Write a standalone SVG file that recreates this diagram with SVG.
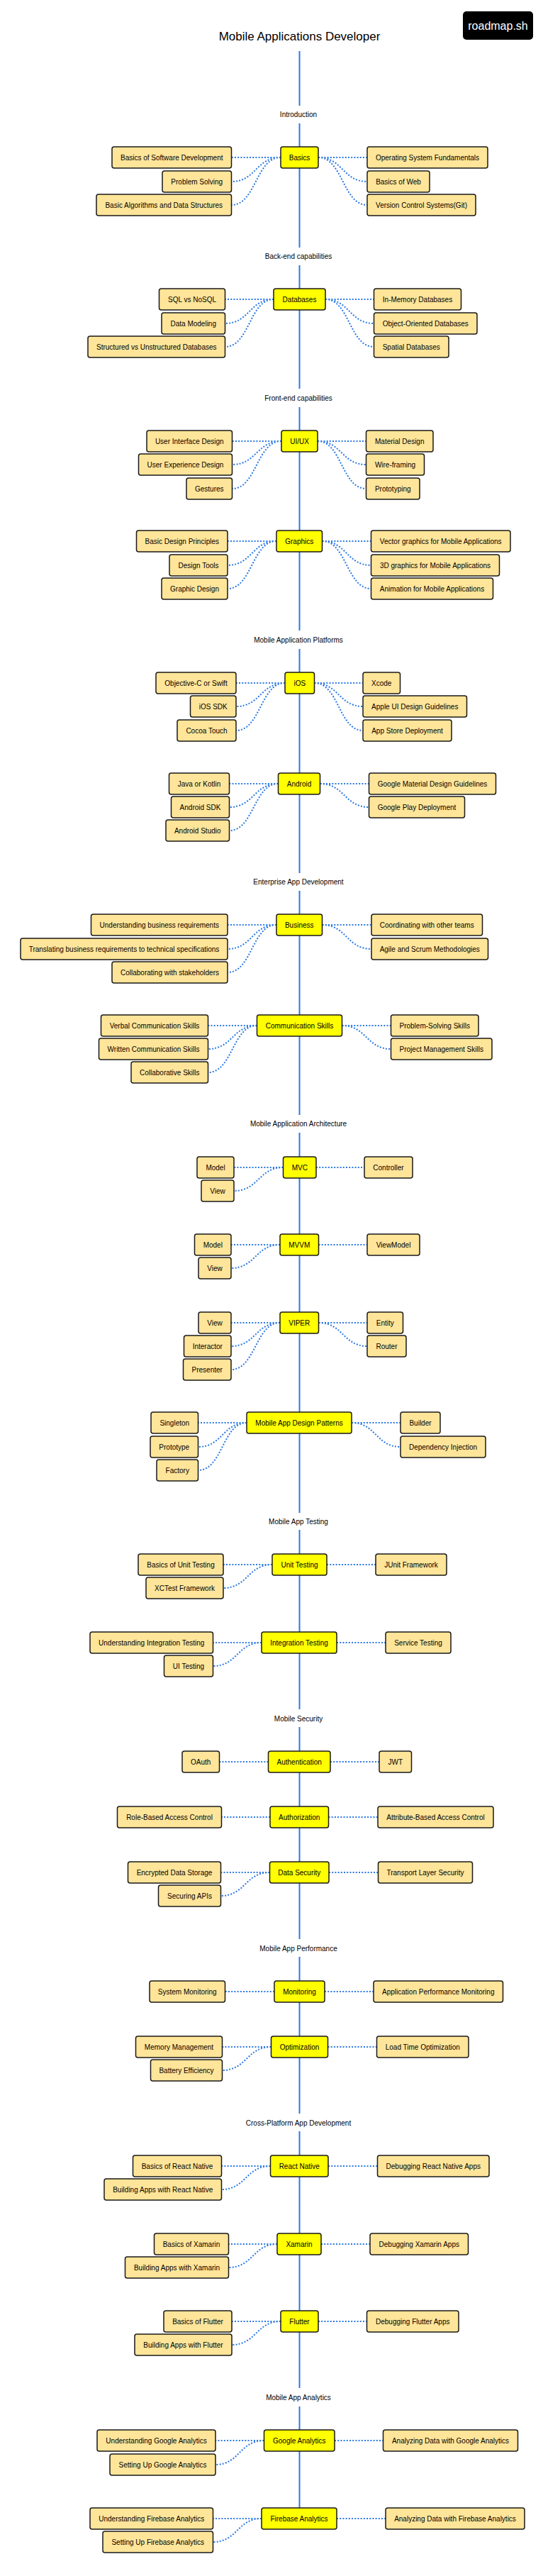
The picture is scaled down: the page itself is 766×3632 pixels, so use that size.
<svg xmlns="http://www.w3.org/2000/svg" width="766" height="3632" viewBox="0 0 766 3632">
<style>
text{font-family:"Liberation Sans",Arial,sans-serif;font-size:10px;fill:#000;text-anchor:middle}
.m rect{fill:#FFFF00;stroke:#1a1a1a;stroke-width:1.5}
.s rect{fill:#FFE599;stroke:#1a1a1a;stroke-width:1.5}
.spine{stroke:#2B78E4;stroke-width:2;fill:none}
.c path{stroke:#2B78E4;stroke-width:2;fill:none;stroke-dasharray:2 2.2}
.lbl{font-size:10px}
</style>
<rect width="766" height="3632" fill="#fff"/>
<g id="title"><text x="422.5" y="57" style="font-size:17px">Mobile Applications Developer</text></g>
<g id="badge"><rect x="653" y="16" width="99" height="40" rx="5" fill="#000"/><text x="702.5" y="42" style="font-size:16px;fill:#fff">roadmap.sh</text></g>

<g id="spine" class="spine">
<path d="M422.5 72V149M422.5 174V349M422.5 374V548M422.5 574V889M422.5 915V1231M422.5 1256V1572M422.5 1597V2133M422.5 2157V2410M422.5 2435V2734M422.5 2759V2980M422.5 3005V3367M422.5 3393V3536"/>
</g>
<g id="labels" class="lbl">
<text x="421" y="164.5">Introduction</text>
<text x="421" y="364.5">Back-end capabilities</text>
<text x="421" y="564.5">Front-end capabilities</text>
<text x="421" y="905.5">Mobile Application Platforms</text>
<text x="421" y="1246.5">Enterprise App Development</text>
<text x="421" y="1587.5">Mobile Application Architecture</text>
<text x="421" y="2148.5">Mobile App Testing</text>
<text x="421" y="2426.5">Mobile Security</text>
<text x="421" y="2750.5">Mobile App Performance</text>
<text x="421" y="2996.5">Cross-Platform App Development</text>
<text x="421" y="3383.5">Mobile App Analytics</text>
</g>

<g id="connectors" class="c">
<path d="M396 222H326.5M396 222C361 222 361 256 326.5 256M396 222C361 222 361 289 326.5 289"/>
<path d="M449 222H518M449 222C483.5 222 483.5 256 518 256M449 222C483.5 222 483.5 289 518 289"/>
<path d="M386 422H317.5M386 422C352 422 352 456 317.5 456M386 422C352 422 352 489 317.5 489"/>
<path d="M459 422H527.5M459 422C493 422 493 456 527.5 456M459 422C493 422 493 489 527.5 489"/>
<path d="M397 622H327.5M397 622C362 622 362 655 327.5 655M397 622C362 622 362 689 327.5 689"/>
<path d="M448 622H516.5M448 622C482 622 482 655 516.5 655M448 622C482 622 482 689 516.5 689"/>
<path d="M390 763H321M390 763C355.5 763 355.5 797 321 797M390 763C355.5 763 355.5 830 321 830"/>
<path d="M454.5 763H523.5M454.5 763C489 763 489 797 523.5 797M454.5 763C489 763 489 830 523.5 830"/>
<path d="M402 963H333M402 963C367.5 963 367.5 996 333 996M402 963C367.5 963 367.5 1030 333 1030"/>
<path d="M443.5 963H512M443.5 963C478 963 478 996 512 996M443.5 963C478 963 478 1030 512 1030"/>
<path d="M392.5 1105H323.5M392.5 1105C358 1105 358 1138 323.5 1138M392.5 1105C358 1105 358 1171 323.5 1171"/>
<path d="M451.5 1105H520.5M451.5 1105C486 1105 486 1138 520.5 1138"/>
<path d="M390 1304H321M390 1304C355.5 1304 355.5 1338 321 1338M390 1304C355.5 1304 355.5 1371 321 1371"/>
<path d="M454.5 1304H524M454.5 1304C489 1304 489 1338 524 1338"/>
<path d="M362.5 1446H293.5M362.5 1446C328 1446 328 1479 293.5 1479M362.5 1446C328 1446 328 1512 293.5 1512"/>
<path d="M482.5 1446H551.5M482.5 1446C517 1446 517 1479 551.5 1479"/>
<path d="M399.5 1646H330M399.5 1646C365 1646 365 1679 330 1679M446 1646H514"/>
<path d="M395 1755H326M395 1755C360.5 1755 360.5 1788 326 1788M449.5 1755H518"/>
<path d="M395 1865H326M395 1865C360.5 1865 360.5 1898 326 1898M395 1865C360.5 1865 360.5 1931 326 1931"/>
<path d="M449.5 1865H518M449.5 1865C484 1865 484 1898 518 1898"/>
<path d="M348 2006H279.5M348 2006C314 2006 314 2040 279.5 2040M348 2006C314 2006 314 2073 279.5 2073"/>
<path d="M496 2006H565M496 2006C530.5 2006 530.5 2040 565 2040"/>
<path d="M384 2206H315M384 2206C349.5 2206 349.5 2239 315 2239M461 2206H530"/>
<path d="M369 2316H300.5M369 2316C335 2316 335 2349 300.5 2349M475 2316H544"/>
<path d="M378.5 2484H309.5M466 2484H535"/>
<path d="M381 2562H312.5M463.5 2562H533"/>
<path d="M380.5 2640H311.5M380.5 2640C346 2640 346 2673 311.5 2673M464 2640H533.5"/>
<path d="M387 2808H317.5M458 2808H527"/>
<path d="M382.5 2886H313.5M382.5 2886C348 2886 348 2919 313.5 2919M462.5 2886H531.5"/>
<path d="M381.5 3054H312.5M381.5 3054C347 3054 347 3087 312.5 3087M463 3054H532.5"/>
<path d="M391 3164H322.5M391 3164C357 3164 357 3197 322.5 3197M453 3164H522"/>
<path d="M396 3273H327M396 3273C361.5 3273 361.5 3306 327 3306M449 3273H517.5"/>
<path d="M372.5 3441H304M372.5 3441C338 3441 338 3475 304 3475M472 3441H540.5"/>
<path d="M369 3551H300.5M369 3551C335 3551 335 3584 300.5 3584M475 3551H544"/>
</g>

<g id="basics" class="m"><rect x="396" y="207" width="53" height="30" rx="3"/><text x="422.5" y="225.5">Basics</text></g>
<g id="basics-sw" class="s"><rect x="158" y="207" width="168.5" height="30" rx="3"/><text x="242.25" y="225.5">Basics of Software Development</text></g>
<g id="problem-solving" class="s"><rect x="229" y="241" width="97.5" height="30" rx="3"/><text x="277.75" y="259.5">Problem Solving</text></g>
<g id="algorithms" class="s"><rect x="136" y="274" width="190.5" height="30" rx="3"/><text x="231.25" y="292.5">Basic Algorithms and Data Structures</text></g>
<g id="os" class="s"><rect x="518" y="207" width="170" height="30" rx="3"/><text x="603" y="225.5">Operating System Fundamentals</text></g>
<g id="web" class="s"><rect x="518" y="241" width="88" height="30" rx="3"/><text x="562" y="259.5">Basics of Web</text></g>
<g id="vcs" class="s"><rect x="518" y="274" width="153" height="30" rx="3"/><text x="594.5" y="292.5">Version Control Systems(Git)</text></g>

<g id="databases" class="m"><rect x="386" y="407" width="73" height="30" rx="3"/><text x="422.5" y="425.5">Databases</text></g>
<g id="sql" class="s"><rect x="224.5" y="407" width="93" height="30" rx="3"/><text x="271" y="425.5">SQL vs NoSQL</text></g>
<g id="modeling" class="s"><rect x="228" y="441" width="89.5" height="30" rx="3"/><text x="272.75" y="459.5">Data Modeling</text></g>
<g id="structured" class="s"><rect x="124" y="474" width="193.5" height="30" rx="3"/><text x="220.75" y="492.5">Structured vs Unstructured Databases</text></g>
<g id="inmem" class="s"><rect x="527.5" y="407" width="123" height="30" rx="3"/><text x="589" y="425.5">In-Memory Databases</text></g>
<g id="oodb" class="s"><rect x="527.5" y="441" width="145.5" height="30" rx="3"/><text x="600.25" y="459.5">Object-Oriented Databases</text></g>
<g id="spatial" class="s"><rect x="527.5" y="474" width="105.5" height="30" rx="3"/><text x="580.25" y="492.5">Spatial Databases</text></g>

<g id="uiux" class="m"><rect x="397" y="607" width="51" height="30" rx="3"/><text x="422.5" y="625.5">UI/UX</text></g>
<g id="uid" class="s"><rect x="207" y="607" width="120.5" height="30" rx="3"/><text x="267.25" y="625.5">User Interface Design</text></g>
<g id="uxd" class="s"><rect x="195.5" y="640" width="132" height="30" rx="3"/><text x="261.5" y="658.5">User Experience Design</text></g>
<g id="gestures" class="s"><rect x="263" y="674" width="64.5" height="30" rx="3"/><text x="295.25" y="692.5">Gestures</text></g>
<g id="material" class="s"><rect x="516.5" y="607" width="94.5" height="30" rx="3"/><text x="563.75" y="625.5">Material Design</text></g>
<g id="wire" class="s"><rect x="516.5" y="640" width="82" height="30" rx="3"/><text x="557.5" y="658.5">Wire-framing</text></g>
<g id="prototyping" class="s"><rect x="516.5" y="674" width="75.5" height="30" rx="3"/><text x="554.25" y="692.5">Prototyping</text></g>

<g id="graphics" class="m"><rect x="390" y="748" width="64.5" height="30" rx="3"/><text x="422.25" y="766.5">Graphics</text></g>
<g id="bdp" class="s"><rect x="192.5" y="748" width="128.5" height="30" rx="3"/><text x="256.75" y="766.5">Basic Design Principles</text></g>
<g id="dtools" class="s"><rect x="239" y="782" width="82" height="30" rx="3"/><text x="280" y="800.5">Design Tools</text></g>
<g id="gdesign" class="s"><rect x="228" y="815" width="93" height="30" rx="3"/><text x="274.5" y="833.5">Graphic Design</text></g>
<g id="vector" class="s"><rect x="523.5" y="748" width="196.5" height="30" rx="3"/><text x="621.75" y="766.5">Vector graphics for Mobile Applications</text></g>
<g id="g3d" class="s"><rect x="523.5" y="782" width="181" height="30" rx="3"/><text x="614" y="800.5">3D graphics for Mobile Applications</text></g>
<g id="anim" class="s"><rect x="523.5" y="815" width="172" height="30" rx="3"/><text x="609.5" y="833.5">Animation for Mobile Applications</text></g>

<g id="ios" class="m"><rect x="402" y="948" width="41.5" height="30" rx="3"/><text x="422.75" y="966.5">iOS</text></g>
<g id="objc" class="s"><rect x="220" y="948" width="113" height="30" rx="3"/><text x="276.5" y="966.5">Objective-C or Swift</text></g>
<g id="iossdk" class="s"><rect x="268.5" y="981" width="64.5" height="30" rx="3"/><text x="300.75" y="999.5">iOS SDK</text></g>
<g id="cocoa" class="s"><rect x="250" y="1015" width="83" height="30" rx="3"/><text x="291.5" y="1033.5">Cocoa Touch</text></g>
<g id="xcode" class="s"><rect x="512" y="948" width="52.5" height="30" rx="3"/><text x="538.25" y="966.5">Xcode</text></g>
<g id="appleui" class="s"><rect x="512" y="981" width="146.5" height="30" rx="3"/><text x="585.25" y="999.5">Apple UI Design Guidelines</text></g>
<g id="appstore" class="s"><rect x="512" y="1015" width="125" height="30" rx="3"/><text x="574.5" y="1033.5">App Store Deployment</text></g>

<g id="android" class="m"><rect x="392.5" y="1090" width="59" height="30" rx="3"/><text x="422" y="1108.5">Android</text></g>
<g id="java" class="s"><rect x="238.5" y="1090" width="85" height="30" rx="3"/><text x="281" y="1108.5">Java or Kotlin</text></g>
<g id="asdk" class="s"><rect x="241.5" y="1123" width="82" height="30" rx="3"/><text x="282.5" y="1141.5">Android SDK</text></g>
<g id="astudio" class="s"><rect x="234" y="1156" width="89.5" height="30" rx="3"/><text x="278.75" y="1174.5">Android Studio</text></g>
<g id="gmdg" class="s"><rect x="520.5" y="1090" width="179" height="30" rx="3"/><text x="610" y="1108.5">Google Material Design Guidelines</text></g>
<g id="gplay" class="s"><rect x="520.5" y="1123" width="135" height="30" rx="3"/><text x="588" y="1141.5">Google Play Deployment</text></g>

<g id="business" class="m"><rect x="390" y="1289" width="64.5" height="30" rx="3"/><text x="422.25" y="1307.5">Business</text></g>
<g id="ubr" class="s"><rect x="128.5" y="1289" width="192.5" height="30" rx="3"/><text x="224.75" y="1307.5">Understanding business requirements</text></g>
<g id="translating" class="s"><rect x="29" y="1323" width="292" height="30" rx="3"/><text x="175" y="1341.5">Translating business requirements to technical specifications</text></g>
<g id="collab" class="s"><rect x="158" y="1356" width="163" height="30" rx="3"/><text x="239.5" y="1374.5">Collaborating with stakeholders</text></g>
<g id="coord" class="s"><rect x="524" y="1289" width="156.5" height="30" rx="3"/><text x="602.25" y="1307.5">Coordinating with other teams</text></g>
<g id="agile" class="s"><rect x="524" y="1323" width="164.5" height="30" rx="3"/><text x="606.25" y="1341.5">Agile and Scrum Methodologies</text></g>

<g id="comm" class="m"><rect x="362.5" y="1431" width="120" height="30" rx="3"/><text x="422.5" y="1449.5">Communication Skills</text></g>
<g id="verbal" class="s"><rect x="142.5" y="1431" width="151" height="30" rx="3"/><text x="218" y="1449.5">Verbal Communication Skills</text></g>
<g id="written" class="s"><rect x="139.5" y="1464" width="154" height="30" rx="3"/><text x="216.5" y="1482.5">Written Communication Skills</text></g>
<g id="collabskills" class="s"><rect x="185" y="1497" width="108.5" height="30" rx="3"/><text x="239.25" y="1515.5">Collaborative Skills</text></g>
<g id="probsolving" class="s"><rect x="551.5" y="1431" width="123.5" height="30" rx="3"/><text x="613.25" y="1449.5">Problem-Solving Skills</text></g>
<g id="pm" class="s"><rect x="551.5" y="1464" width="142.5" height="30" rx="3"/><text x="622.75" y="1482.5">Project Management Skills</text></g>

<g id="mvc" class="m"><rect x="399.5" y="1631" width="46.5" height="30" rx="3"/><text x="422.75" y="1649.5">MVC</text></g>
<g id="mvc-model" class="s"><rect x="278" y="1631" width="52" height="30" rx="3"/><text x="304" y="1649.5">Model</text></g>
<g id="mvc-view" class="s"><rect x="284" y="1664" width="46" height="30" rx="3"/><text x="307" y="1682.5">View</text></g>
<g id="mvc-controller" class="s"><rect x="514" y="1631" width="68" height="30" rx="3"/><text x="548" y="1649.5">Controller</text></g>

<g id="mvvm" class="m"><rect x="395" y="1740" width="54.5" height="30" rx="3"/><text x="422.25" y="1758.5">MVVM</text></g>
<g id="mvvm-model" class="s"><rect x="274.5" y="1740" width="51.5" height="30" rx="3"/><text x="300.25" y="1758.5">Model</text></g>
<g id="mvvm-view" class="s"><rect x="280" y="1773" width="46" height="30" rx="3"/><text x="303" y="1791.5">View</text></g>
<g id="viewmodel" class="s"><rect x="518" y="1740" width="74" height="30" rx="3"/><text x="555" y="1758.5">ViewModel</text></g>

<g id="viper" class="m"><rect x="395" y="1850" width="54.5" height="30" rx="3"/><text x="422.25" y="1868.5">VIPER</text></g>
<g id="viper-view" class="s"><rect x="280" y="1850" width="46" height="30" rx="3"/><text x="303" y="1868.5">View</text></g>
<g id="interactor" class="s"><rect x="259.5" y="1883" width="66.5" height="30" rx="3"/><text x="292.75" y="1901.5">Interactor</text></g>
<g id="presenter" class="s"><rect x="258.5" y="1916" width="67.5" height="30" rx="3"/><text x="292.25" y="1934.5">Presenter</text></g>
<g id="entity" class="s"><rect x="518" y="1850" width="50.5" height="30" rx="3"/><text x="543.25" y="1868.5">Entity</text></g>
<g id="router" class="s"><rect x="518" y="1883" width="55" height="30" rx="3"/><text x="545.5" y="1901.5">Router</text></g>

<g id="patterns" class="m"><rect x="348" y="1991" width="148" height="30" rx="3"/><text x="422" y="2009.5">Mobile App Design Patterns</text></g>
<g id="singleton" class="s"><rect x="213" y="1991" width="66.5" height="30" rx="3"/><text x="246.25" y="2009.5">Singleton</text></g>
<g id="prototype" class="s"><rect x="212" y="2025" width="67.5" height="30" rx="3"/><text x="245.75" y="2043.5">Prototype</text></g>
<g id="factory" class="s"><rect x="221" y="2058" width="58.5" height="30" rx="3"/><text x="250.25" y="2076.5">Factory</text></g>
<g id="builder" class="s"><rect x="565" y="1991" width="56" height="30" rx="3"/><text x="593" y="2009.5">Builder</text></g>
<g id="di" class="s"><rect x="565" y="2025" width="120" height="30" rx="3"/><text x="625" y="2043.5">Dependency Injection</text></g>

<g id="unit" class="m"><rect x="384" y="2191" width="77" height="30" rx="3"/><text x="422.5" y="2209.5">Unit Testing</text></g>
<g id="but" class="s"><rect x="195" y="2191" width="120" height="30" rx="3"/><text x="255" y="2209.5">Basics of Unit Testing</text></g>
<g id="xctest" class="s"><rect x="206" y="2224" width="109" height="30" rx="3"/><text x="260.5" y="2242.5">XCTest Framework</text></g>
<g id="junit" class="s"><rect x="530" y="2191" width="100" height="30" rx="3"/><text x="580" y="2209.5">JUnit Framework</text></g>

<g id="integration" class="m"><rect x="369" y="2301" width="106" height="30" rx="3"/><text x="422" y="2319.5">Integration Testing</text></g>
<g id="uit" class="s"><rect x="127" y="2301" width="173.5" height="30" rx="3"/><text x="213.75" y="2319.5">Understanding Integration Testing</text></g>
<g id="uitesting" class="s"><rect x="231.5" y="2334" width="69" height="30" rx="3"/><text x="266" y="2352.5">UI Testing</text></g>
<g id="service" class="s"><rect x="544" y="2301" width="92" height="30" rx="3"/><text x="590" y="2319.5">Service Testing</text></g>

<g id="authn" class="m"><rect x="378.5" y="2469" width="87.5" height="30" rx="3"/><text x="422.25" y="2487.5">Authentication</text></g>
<g id="oauth" class="s"><rect x="257" y="2469" width="52.5" height="30" rx="3"/><text x="283.25" y="2487.5">OAuth</text></g>
<g id="jwt" class="s"><rect x="535" y="2469" width="45.5" height="30" rx="3"/><text x="557.75" y="2487.5">JWT</text></g>

<g id="authz" class="m"><rect x="381" y="2547" width="82.5" height="30" rx="3"/><text x="422.25" y="2565.5">Authorization</text></g>
<g id="rbac" class="s"><rect x="165.5" y="2547" width="147" height="30" rx="3"/><text x="239" y="2565.5">Role-Based Access Control</text></g>
<g id="abac" class="s"><rect x="533" y="2547" width="163" height="30" rx="3"/><text x="614.5" y="2565.5">Attribute-Based Access Control</text></g>

<g id="datasec" class="m"><rect x="380.5" y="2625" width="83.5" height="30" rx="3"/><text x="422.25" y="2643.5">Data Security</text></g>
<g id="encrypted" class="s"><rect x="180.5" y="2625" width="131" height="30" rx="3"/><text x="246" y="2643.5">Encrypted Data Storage</text></g>
<g id="securing" class="s"><rect x="223.5" y="2658" width="88" height="30" rx="3"/><text x="267.5" y="2676.5">Securing APIs</text></g>
<g id="tls" class="s"><rect x="533.5" y="2625" width="133" height="30" rx="3"/><text x="600" y="2643.5">Transport Layer Security</text></g>

<g id="monitoring" class="m"><rect x="387" y="2793" width="71" height="30" rx="3"/><text x="422.5" y="2811.5">Monitoring</text></g>
<g id="sysmon" class="s"><rect x="211" y="2793" width="106.5" height="30" rx="3"/><text x="264.25" y="2811.5">System Monitoring</text></g>
<g id="apm" class="s"><rect x="527" y="2793" width="182.5" height="30" rx="3"/><text x="618.25" y="2811.5">Application Performance Monitoring</text></g>

<g id="optimization" class="m"><rect x="382.5" y="2871" width="80" height="30" rx="3"/><text x="422.5" y="2889.5">Optimization</text></g>
<g id="memory" class="s"><rect x="191.5" y="2871" width="122" height="30" rx="3"/><text x="252.5" y="2889.5">Memory Management</text></g>
<g id="battery" class="s"><rect x="212.5" y="2904" width="101" height="30" rx="3"/><text x="263" y="2922.5">Battery Efficiency</text></g>
<g id="loadtime" class="s"><rect x="531.5" y="2871" width="129.5" height="30" rx="3"/><text x="596.25" y="2889.5">Load Time Optimization</text></g>

<g id="reactnative" class="m"><rect x="381.5" y="3039" width="81.5" height="30" rx="3"/><text x="422.25" y="3057.5">React Native</text></g>
<g id="brn" class="s"><rect x="187.5" y="3039" width="125" height="30" rx="3"/><text x="250" y="3057.5">Basics of React Native</text></g>
<g id="barn" class="s"><rect x="147" y="3072" width="165.5" height="30" rx="3"/><text x="229.75" y="3090.5">Building Apps with React Native</text></g>
<g id="drn" class="s"><rect x="532.5" y="3039" width="157.5" height="30" rx="3"/><text x="611.25" y="3057.5">Debugging React Native Apps</text></g>

<g id="xamarin" class="m"><rect x="391" y="3149" width="62" height="30" rx="3"/><text x="422" y="3167.5">Xamarin</text></g>
<g id="bx" class="s"><rect x="217.5" y="3149" width="105" height="30" rx="3"/><text x="270" y="3167.5">Basics of Xamarin</text></g>
<g id="bax" class="s"><rect x="176.5" y="3182" width="146" height="30" rx="3"/><text x="249.5" y="3200.5">Building Apps with Xamarin</text></g>
<g id="dx" class="s"><rect x="522" y="3149" width="138.5" height="30" rx="3"/><text x="591.25" y="3167.5">Debugging Xamarin Apps</text></g>

<g id="flutter" class="m"><rect x="396" y="3258" width="53" height="30" rx="3"/><text x="422.5" y="3276.5">Flutter</text></g>
<g id="bf" class="s"><rect x="231" y="3258" width="96" height="30" rx="3"/><text x="279" y="3276.5">Basics of Flutter</text></g>
<g id="baf" class="s"><rect x="190" y="3291" width="137" height="30" rx="3"/><text x="258.5" y="3309.5">Building Apps with Flutter</text></g>
<g id="df" class="s"><rect x="517.5" y="3258" width="129.5" height="30" rx="3"/><text x="582.25" y="3276.5">Debugging Flutter Apps</text></g>

<g id="ga" class="m"><rect x="372.5" y="3426" width="99.5" height="30" rx="3"/><text x="422.25" y="3444.5">Google Analytics</text></g>
<g id="uga" class="s"><rect x="137" y="3426" width="167" height="30" rx="3"/><text x="220.5" y="3444.5">Understanding Google Analytics</text></g>
<g id="suga" class="s"><rect x="155" y="3460" width="149" height="30" rx="3"/><text x="229.5" y="3478.5">Setting Up Google Analytics</text></g>
<g id="adga" class="s"><rect x="540.5" y="3426" width="190" height="30" rx="3"/><text x="635.5" y="3444.5">Analyzing Data with Google Analytics</text></g>

<g id="fa" class="m"><rect x="369" y="3536" width="106" height="30" rx="3"/><text x="422" y="3554.5">Firebase Analytics</text></g>
<g id="ufa" class="s"><rect x="127" y="3536" width="173.5" height="30" rx="3"/><text x="213.75" y="3554.5">Understanding Firebase Analytics</text></g>
<g id="sufa" class="s"><rect x="145" y="3569" width="155.5" height="30" rx="3"/><text x="222.75" y="3587.5">Setting Up Firebase Analytics</text></g>
<g id="adfa" class="s"><rect x="544" y="3536" width="196" height="30" rx="3"/><text x="642" y="3554.5">Analyzing Data with Firebase Analytics</text></g>
</svg>
